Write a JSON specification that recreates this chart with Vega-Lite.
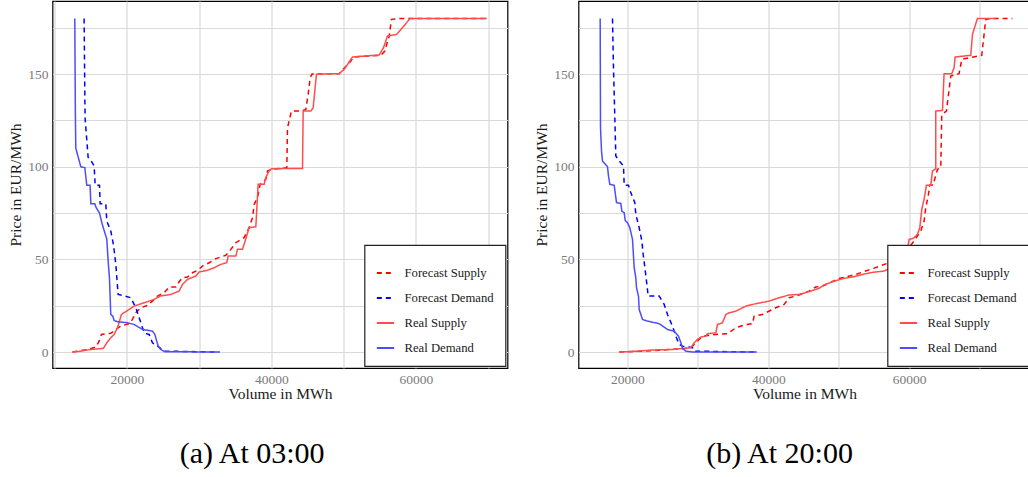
{
  "$schema": "https://vega.github.io/schema/vega-lite/v6.json",
  "background": "white",
  "padding": {"left": 7.5, "top": 0, "right": 0, "bottom": 0},
  "spacing": 25,
  "datasets": {
    "a": [
      {"s":"Forecast Supply","x":12480,"y":0},{"s":"Forecast Supply","x":14550,"y":1.4},{"s":"Forecast Supply","x":15710,"y":2.7},{"s":"Forecast Supply","x":16170,"y":5.9},{"s":"Forecast Supply","x":16490,"y":9.5},{"s":"Forecast Supply","x":17780,"y":10.1},{"s":"Forecast Supply","x":18480,"y":12.2},{"s":"Forecast Supply","x":19170,"y":14},{"s":"Forecast Supply","x":20320,"y":15.3},{"s":"Forecast Supply","x":20780,"y":17.6},{"s":"Forecast Supply","x":21250,"y":21.2},{"s":"Forecast Supply","x":21940,"y":23.9},{"s":"Forecast Supply","x":22860,"y":25.2},{"s":"Forecast Supply","x":23550,"y":27.5},{"s":"Forecast Supply","x":24250,"y":30.2},{"s":"Forecast Supply","x":25170,"y":32},{"s":"Forecast Supply","x":25860,"y":35.1},{"s":"Forecast Supply","x":26780,"y":35.1},{"s":"Forecast Supply","x":27240,"y":37.9},{"s":"Forecast Supply","x":27710,"y":40.1},{"s":"Forecast Supply","x":28400,"y":40.5},{"s":"Forecast Supply","x":29090,"y":42.8},{"s":"Forecast Supply","x":29780,"y":44.1},{"s":"Forecast Supply","x":30470,"y":46.4},{"s":"Forecast Supply","x":31400,"y":48.2},{"s":"Forecast Supply","x":32320,"y":50.4},{"s":"Forecast Supply","x":33700,"y":52.2},{"s":"Forecast Supply","x":34400,"y":55.4},{"s":"Forecast Supply","x":35090,"y":59},{"s":"Forecast Supply","x":36240,"y":61.7},{"s":"Forecast Supply","x":36930,"y":67.1},{"s":"Forecast Supply","x":37400,"y":72.5},{"s":"Forecast Supply","x":37630,"y":79.7},{"s":"Forecast Supply","x":38090,"y":83.3},{"s":"Forecast Supply","x":38460,"y":90.5},{"s":"Forecast Supply","x":39240,"y":93.2},{"s":"Forecast Supply","x":39470,"y":97.7},{"s":"Forecast Supply","x":40020,"y":98.6},{"s":"Forecast Supply","x":42150,"y":99.5},{"s":"Forecast Supply","x":42240,"y":121},{"s":"Forecast Supply","x":42790,"y":130},{"s":"Forecast Supply","x":44090,"y":130},{"s":"Forecast Supply","x":44780,"y":130.9},{"s":"Forecast Supply","x":45100,"y":139},{"s":"Forecast Supply","x":45380,"y":148},{"s":"Forecast Supply","x":45650,"y":150},{"s":"Forecast Supply","x":49390,"y":150.2},{"s":"Forecast Supply","x":51010,"y":157},{"s":"Forecast Supply","x":51380,"y":159.2},{"s":"Forecast Supply","x":55160,"y":160.1},{"s":"Forecast Supply","x":55710,"y":162.4},{"s":"Forecast Supply","x":56310,"y":170.5},{"s":"Forecast Supply","x":56630,"y":179.5},{"s":"Forecast Supply","x":57700,"y":180},{"s":"Forecast Supply","x":59310,"y":180},{"s":"Forecast Supply","x":69830,"y":180},
      {"s":"Forecast Demand","x":14090,"y":180},{"s":"Forecast Demand","x":14190,"y":139},{"s":"Forecast Demand","x":14230,"y":126},{"s":"Forecast Demand","x":14550,"y":110},{"s":"Forecast Demand","x":14650,"y":105},{"s":"Forecast Demand","x":15020,"y":103.4},{"s":"Forecast Demand","x":15480,"y":100.4},{"s":"Forecast Demand","x":15620,"y":90},{"s":"Forecast Demand","x":16220,"y":90},{"s":"Forecast Demand","x":16310,"y":80},{"s":"Forecast Demand","x":17090,"y":80},{"s":"Forecast Demand","x":17230,"y":70.7},{"s":"Forecast Demand","x":17780,"y":65.3},{"s":"Forecast Demand","x":18150,"y":58},{"s":"Forecast Demand","x":18480,"y":47.3},{"s":"Forecast Demand","x":18800,"y":31.1},{"s":"Forecast Demand","x":19720,"y":30.2},{"s":"Forecast Demand","x":20550,"y":29.3},{"s":"Forecast Demand","x":21250,"y":23.9},{"s":"Forecast Demand","x":21710,"y":18.5},{"s":"Forecast Demand","x":22170,"y":13.1},{"s":"Forecast Demand","x":22490,"y":10.1},{"s":"Forecast Demand","x":23090,"y":9.5},{"s":"Forecast Demand","x":23550,"y":5},{"s":"Forecast Demand","x":24250,"y":3.2},{"s":"Forecast Demand","x":25170,"y":0.5},{"s":"Forecast Demand","x":32830,"y":0},
      {"s":"Real Supply","x":12480,"y":0},{"s":"Real Supply","x":13630,"y":0.5},{"s":"Real Supply","x":15020,"y":1.4},{"s":"Real Supply","x":16770,"y":2},{"s":"Real Supply","x":17230,"y":5},{"s":"Real Supply","x":17780,"y":7.7},{"s":"Real Supply","x":18250,"y":9.5},{"s":"Real Supply","x":18710,"y":13.1},{"s":"Real Supply","x":19260,"y":20.3},{"s":"Real Supply","x":19860,"y":21.8},{"s":"Real Supply","x":21010,"y":24.8},{"s":"Real Supply","x":22400,"y":26.6},{"s":"Real Supply","x":23780,"y":28.4},{"s":"Real Supply","x":24610,"y":30.2},{"s":"Real Supply","x":26090,"y":31.1},{"s":"Real Supply","x":27240,"y":32.9},{"s":"Real Supply","x":27710,"y":36.5},{"s":"Real Supply","x":28400,"y":39.2},{"s":"Real Supply","x":29550,"y":41},{"s":"Real Supply","x":30010,"y":43.2},{"s":"Real Supply","x":31170,"y":44.1},{"s":"Real Supply","x":32090,"y":45.5},{"s":"Real Supply","x":33010,"y":47.3},{"s":"Real Supply","x":33840,"y":48.2},{"s":"Real Supply","x":34030,"y":51.8},{"s":"Real Supply","x":35090,"y":51.8},{"s":"Real Supply","x":35320,"y":55.4},{"s":"Real Supply","x":36010,"y":55.4},{"s":"Real Supply","x":36380,"y":59.9},{"s":"Real Supply","x":36930,"y":67.1},{"s":"Real Supply","x":37860,"y":67.6},{"s":"Real Supply","x":38180,"y":90.5},{"s":"Real Supply","x":39010,"y":90.5},{"s":"Real Supply","x":39240,"y":94.1},{"s":"Real Supply","x":39700,"y":97.7},{"s":"Real Supply","x":40020,"y":98.9},{"s":"Real Supply","x":44320,"y":99.1},{"s":"Real Supply","x":44410,"y":130},{"s":"Real Supply","x":45470,"y":130},{"s":"Real Supply","x":45790,"y":131.8},{"s":"Real Supply","x":46250,"y":149.8},{"s":"Real Supply","x":46300,"y":150},{"s":"Real Supply","x":49390,"y":150.2},{"s":"Real Supply","x":50080,"y":152.5},{"s":"Real Supply","x":51240,"y":159.2},{"s":"Real Supply","x":54930,"y":160.3},{"s":"Real Supply","x":55530,"y":164.2},{"s":"Real Supply","x":56080,"y":170.5},{"s":"Real Supply","x":57370,"y":171.4},{"s":"Real Supply","x":59220,"y":180},{"s":"Real Supply","x":69830,"y":180},
      {"s":"Real Demand","x":12800,"y":180},{"s":"Real Demand","x":12880,"y":130},{"s":"Real Demand","x":12940,"y":110},{"s":"Real Demand","x":13630,"y":100},{"s":"Real Demand","x":14190,"y":99.5},{"s":"Real Demand","x":14460,"y":90},{"s":"Real Demand","x":14920,"y":90},{"s":"Real Demand","x":15020,"y":80},{"s":"Real Demand","x":15570,"y":80},{"s":"Real Demand","x":15750,"y":78},{"s":"Real Demand","x":16220,"y":75},{"s":"Real Demand","x":16630,"y":68.5},{"s":"Real Demand","x":17230,"y":61},{"s":"Real Demand","x":17420,"y":49},{"s":"Real Demand","x":17600,"y":40},{"s":"Real Demand","x":17780,"y":20.3},{"s":"Real Demand","x":18060,"y":19.4},{"s":"Real Demand","x":18250,"y":17},{"s":"Real Demand","x":18710,"y":16.4},{"s":"Real Demand","x":20090,"y":15.8},{"s":"Real Demand","x":21010,"y":14.9},{"s":"Real Demand","x":22170,"y":12.2},{"s":"Real Demand","x":23550,"y":11.3},{"s":"Real Demand","x":23880,"y":9.5},{"s":"Real Demand","x":24340,"y":3.2},{"s":"Real Demand","x":24700,"y":1.4},{"s":"Real Demand","x":25260,"y":0.2},{"s":"Real Demand","x":32830,"y":0}
    ],
    "b": [
      {"s":"Forecast Supply","x":18820,"y":0},{"s":"Forecast Supply","x":22130,"y":0.5},{"s":"Forecast Supply","x":24970,"y":1.1},{"s":"Forecast Supply","x":27810,"y":1.8},{"s":"Forecast Supply","x":29000,"y":2.3},{"s":"Forecast Supply","x":29470,"y":4.1},{"s":"Forecast Supply","x":30650,"y":8.6},{"s":"Forecast Supply","x":32550,"y":9.5},{"s":"Forecast Supply","x":34200,"y":9.9},{"s":"Forecast Supply","x":35390,"y":13.1},{"s":"Forecast Supply","x":36570,"y":14.6},{"s":"Forecast Supply","x":37750,"y":15.3},{"s":"Forecast Supply","x":37990,"y":19.4},{"s":"Forecast Supply","x":39170,"y":20.3},{"s":"Forecast Supply","x":41070,"y":23.9},{"s":"Forecast Supply","x":42250,"y":25.7},{"s":"Forecast Supply","x":42960,"y":29.3},{"s":"Forecast Supply","x":43910,"y":30.2},{"s":"Forecast Supply","x":45800,"y":32.9},{"s":"Forecast Supply","x":46750,"y":35.1},{"s":"Forecast Supply","x":47690,"y":35.6},{"s":"Forecast Supply","x":50060,"y":39.7},{"s":"Forecast Supply","x":52430,"y":41.9},{"s":"Forecast Supply","x":54800,"y":45},{"s":"Forecast Supply","x":57160,"y":48.2},{"s":"Forecast Supply","x":57870,"y":49.5},{"s":"Forecast Supply","x":58350,"y":51.3},{"s":"Forecast Supply","x":59530,"y":53.6},{"s":"Forecast Supply","x":60000,"y":56.3},{"s":"Forecast Supply","x":60950,"y":61.3},{"s":"Forecast Supply","x":61660,"y":65.3},{"s":"Forecast Supply","x":62130,"y":70.7},{"s":"Forecast Supply","x":62370,"y":77.9},{"s":"Forecast Supply","x":62750,"y":85.1},{"s":"Forecast Supply","x":62940,"y":90.1},{"s":"Forecast Supply","x":63410,"y":90.1},{"s":"Forecast Supply","x":64030,"y":98.6},{"s":"Forecast Supply","x":64500,"y":99.5},{"s":"Forecast Supply","x":64640,"y":128.2},{"s":"Forecast Supply","x":65300,"y":130},{"s":"Forecast Supply","x":65920,"y":148.9},{"s":"Forecast Supply","x":67100,"y":150.2},{"s":"Forecast Supply","x":67480,"y":157.9},{"s":"Forecast Supply","x":70320,"y":160.1},{"s":"Forecast Supply","x":70890,"y":179.5},{"s":"Forecast Supply","x":71840,"y":180},{"s":"Forecast Supply","x":74680,"y":180},
      {"s":"Forecast Demand","x":17870,"y":180},{"s":"Forecast Demand","x":18010,"y":153.4},{"s":"Forecast Demand","x":18200,"y":126.4},{"s":"Forecast Demand","x":18340,"y":105.8},{"s":"Forecast Demand","x":18820,"y":103.1},{"s":"Forecast Demand","x":19430,"y":100.4},{"s":"Forecast Demand","x":19530,"y":90},{"s":"Forecast Demand","x":20140,"y":90},{"s":"Forecast Demand","x":20380,"y":86.9},{"s":"Forecast Demand","x":21040,"y":80.6},{"s":"Forecast Demand","x":21180,"y":74.3},{"s":"Forecast Demand","x":21660,"y":67.1},{"s":"Forecast Demand","x":22040,"y":59.9},{"s":"Forecast Demand","x":22230,"y":52.7},{"s":"Forecast Demand","x":22410,"y":47.3},{"s":"Forecast Demand","x":22700,"y":38.3},{"s":"Forecast Demand","x":22940,"y":30.2},{"s":"Forecast Demand","x":24500,"y":30.2},{"s":"Forecast Demand","x":25210,"y":25.7},{"s":"Forecast Demand","x":25680,"y":20.3},{"s":"Forecast Demand","x":26390,"y":14},{"s":"Forecast Demand","x":26960,"y":7.7},{"s":"Forecast Demand","x":27340,"y":4.1},{"s":"Forecast Demand","x":27810,"y":3.2},{"s":"Forecast Demand","x":29230,"y":2.3},{"s":"Forecast Demand","x":29470,"y":0.5},{"s":"Forecast Demand","x":38230,"y":0},
      {"s":"Real Supply","x":18820,"y":0},{"s":"Real Supply","x":21420,"y":0.5},{"s":"Real Supply","x":23550,"y":1.1},{"s":"Real Supply","x":26390,"y":1.4},{"s":"Real Supply","x":29000,"y":2.3},{"s":"Real Supply","x":29470,"y":5},{"s":"Real Supply","x":29940,"y":6.8},{"s":"Real Supply","x":30420,"y":8.1},{"s":"Real Supply","x":31130,"y":8.6},{"s":"Real Supply","x":31360,"y":9.9},{"s":"Real Supply","x":32550,"y":10.4},{"s":"Real Supply","x":32780,"y":14.9},{"s":"Real Supply","x":33490,"y":15.8},{"s":"Real Supply","x":33970,"y":20.3},{"s":"Real Supply","x":34440,"y":21.2},{"s":"Real Supply","x":35390,"y":22.1},{"s":"Real Supply","x":36810,"y":24.8},{"s":"Real Supply","x":38230,"y":26.1},{"s":"Real Supply","x":40120,"y":27.5},{"s":"Real Supply","x":41540,"y":29.3},{"s":"Real Supply","x":42960,"y":30.8},{"s":"Real Supply","x":44380,"y":31.1},{"s":"Real Supply","x":45800,"y":32.6},{"s":"Real Supply","x":47220,"y":34.4},{"s":"Real Supply","x":47930,"y":36.2},{"s":"Real Supply","x":49120,"y":37.9},{"s":"Real Supply","x":50540,"y":39.6},{"s":"Real Supply","x":51960,"y":40.5},{"s":"Real Supply","x":53380,"y":41.9},{"s":"Real Supply","x":54800,"y":43},{"s":"Real Supply","x":56450,"y":43.7},{"s":"Real Supply","x":57400,"y":45.5},{"s":"Real Supply","x":57730,"y":49.1},{"s":"Real Supply","x":58200,"y":51.3},{"s":"Real Supply","x":58820,"y":51.8},{"s":"Real Supply","x":59290,"y":55.4},{"s":"Real Supply","x":59770,"y":55.4},{"s":"Real Supply","x":60000,"y":60.8},{"s":"Real Supply","x":60570,"y":61.3},{"s":"Real Supply","x":61180,"y":63.5},{"s":"Real Supply","x":61520,"y":67.1},{"s":"Real Supply","x":61800,"y":77},{"s":"Real Supply","x":62130,"y":82.4},{"s":"Real Supply","x":62460,"y":90},{"s":"Real Supply","x":63080,"y":90},{"s":"Real Supply","x":63320,"y":97.7},{"s":"Real Supply","x":63790,"y":98.9},{"s":"Real Supply","x":63790,"y":130},{"s":"Real Supply","x":64740,"y":130.4},{"s":"Real Supply","x":64970,"y":150.2},{"s":"Real Supply","x":66060,"y":150.2},{"s":"Real Supply","x":66390,"y":153.4},{"s":"Real Supply","x":66540,"y":159.2},{"s":"Real Supply","x":68760,"y":160.1},{"s":"Real Supply","x":69000,"y":171.4},{"s":"Real Supply","x":69710,"y":180},{"s":"Real Supply","x":72310,"y":180},
      {"s":"Real Demand","x":16120,"y":180},{"s":"Real Demand","x":16165,"y":121},{"s":"Real Demand","x":16310,"y":108.5},{"s":"Real Demand","x":16450,"y":103},{"s":"Real Demand","x":17160,"y":100},{"s":"Real Demand","x":17300,"y":95},{"s":"Real Demand","x":17490,"y":90.5},{"s":"Real Demand","x":18110,"y":90},{"s":"Real Demand","x":18440,"y":80.6},{"s":"Real Demand","x":19050,"y":80.2},{"s":"Real Demand","x":19200,"y":76},{"s":"Real Demand","x":19530,"y":75.2},{"s":"Real Demand","x":19670,"y":71},{"s":"Real Demand","x":20000,"y":69.8},{"s":"Real Demand","x":20330,"y":67.1},{"s":"Real Demand","x":20710,"y":60.8},{"s":"Real Demand","x":20950,"y":45.5},{"s":"Real Demand","x":21180,"y":40.1},{"s":"Real Demand","x":21280,"y":34.7},{"s":"Real Demand","x":21560,"y":30.2},{"s":"Real Demand","x":21660,"y":23},{"s":"Real Demand","x":22130,"y":17.6},{"s":"Real Demand","x":22840,"y":16.7},{"s":"Real Demand","x":24500,"y":15.3},{"s":"Real Demand","x":25680,"y":12.2},{"s":"Real Demand","x":26630,"y":11.3},{"s":"Real Demand","x":27240,"y":8.6},{"s":"Real Demand","x":27670,"y":4.1},{"s":"Real Demand","x":27810,"y":2},{"s":"Real Demand","x":28280,"y":0.5},{"s":"Real Demand","x":29230,"y":0},{"s":"Real Demand","x":38370,"y":0}
    ]
  },
  "hconcat": [
    {
      "width": 455,
      "height": 367,
      "data": {"name": "a"},
      "title": {"text": "(a) At 03:00", "dx": -6},
      "mark": {"type": "line", "strokeWidth": 1.5, "clip": true},
      "encoding": {
        "x": {"field": "x", "type": "quantitative", "title": "Volume in MWh",
              "scale": {"domain": [9716, 72692], "nice": false, "zero": false},
              "axis": {"values": [10000, 20000, 30000, 40000, 50000, 60000, 70000], "format": "d", "labelExpr": "datum.value % 20000 === 0 ? datum.label : ''"}},
        "y": {"field": "y", "type": "quantitative", "title": "Price in EUR/MWh",
              "scale": {"domain": [-8.6, 189.4], "nice": false, "zero": false},
              "axis": {"values": [0, 25, 50, 75, 100, 125, 150, 175], "labelExpr": "datum.value % 50 === 0 ? datum.label : ''"}},
        "color": {"field": "s", "type": "nominal", "title": " ",
                  "scale": {"domain": ["Forecast Supply", "Forecast Demand", "Real Supply", "Real Demand"], "range": ["#ff0000", "#0000ff", "#ff4d4d", "#4d4dff"]}},
        "strokeDash": {"field": "s", "type": "nominal", "title": " ",
                  "scale": {"domain": ["Forecast Supply", "Forecast Demand", "Real Supply", "Real Demand"], "range": [[5, 4], [5, 4], [1, 0], [1, 0]]}},
        "order": {"value": null}
      }
    },
    {
      "width": 452,
      "height": 367,
      "data": {"name": "b"},
      "title": {"text": "(b) At 20:00", "dx": -3},
      "mark": {"type": "line", "strokeWidth": 1.5, "clip": true},
      "encoding": {
        "x": {"field": "x", "type": "quantitative", "title": "Volume in MWh",
              "scale": {"domain": [13040, 77245], "nice": false, "zero": false},
              "axis": {"values": [20000, 30000, 40000, 50000, 60000, 70000], "format": "d", "labelExpr": "datum.value % 20000 === 0 ? datum.label : ''"}},
        "y": {"field": "y", "type": "quantitative", "title": "Price in EUR/MWh",
              "scale": {"domain": [-8.6, 189.4], "nice": false, "zero": false},
              "axis": {"values": [0, 25, 50, 75, 100, 125, 150, 175], "labelExpr": "datum.value % 50 === 0 ? datum.label : ''"}},
        "color": {"field": "s", "type": "nominal", "title": " ",
                  "scale": {"domain": ["Forecast Supply", "Forecast Demand", "Real Supply", "Real Demand"], "range": ["#ff0000", "#0000ff", "#ff4d4d", "#4d4dff"]}},
        "strokeDash": {"field": "s", "type": "nominal", "title": " ",
                  "scale": {"domain": ["Forecast Supply", "Forecast Demand", "Real Supply", "Real Demand"], "range": [[5, 4], [5, 4], [1, 0], [1, 0]]}},
        "order": {"value": null}
      }
    }
  ],
  "resolve": {"scale": {"x": "independent", "y": "independent", "color": "independent", "strokeDash": "independent"}, "legend": {"color": "independent", "strokeDash": "independent"}},
  "config": {
    "font": "Liberation Serif",
    "view": {"stroke": "#000000", "strokeWidth": 1.2},
    "axis": {
      "grid": true, "gridColor": "#d9d9d9", "gridWidth": 1.2, "ticks": false, "domain": false,
      "labelFont": "Liberation Serif", "labelFontSize": 13.5, "labelColor": "#7a7a7a", "labelFlush": false,
      "titleFont": "Liberation Serif", "titleFontSize": 15.5, "titleFontWeight": "normal", "titleColor": "#1a1a1a"
    },
    "axisX": {"labelPadding": 4, "titlePadding": 1},
    "axisY": {"labelPadding": 4.5, "titlePadding": 4},
    "legend": {
      "orient": "bottom-right", "offset": 2, "padding": 11,
      "strokeColor": "#222222", "fillColor": "#ffffff", "strokeWidth": 1.2,
      "titleFontSize": 5, "titlePadding": 2,
      "labelFont": "Liberation Serif", "labelFontSize": 12.7, "labelColor": "#1a1a1a", "labelOffset": 9,
      "symbolType": "stroke", "symbolSize": 300, "symbolStrokeWidth": 2, "rowPadding": 8
    },
    "title": {"orient": "bottom", "anchor": "middle", "frame": "bounds", "offset": 37, "fontSize": 30, "fontWeight": "normal", "font": "Liberation Serif", "color": "#000000"}
  }
}
